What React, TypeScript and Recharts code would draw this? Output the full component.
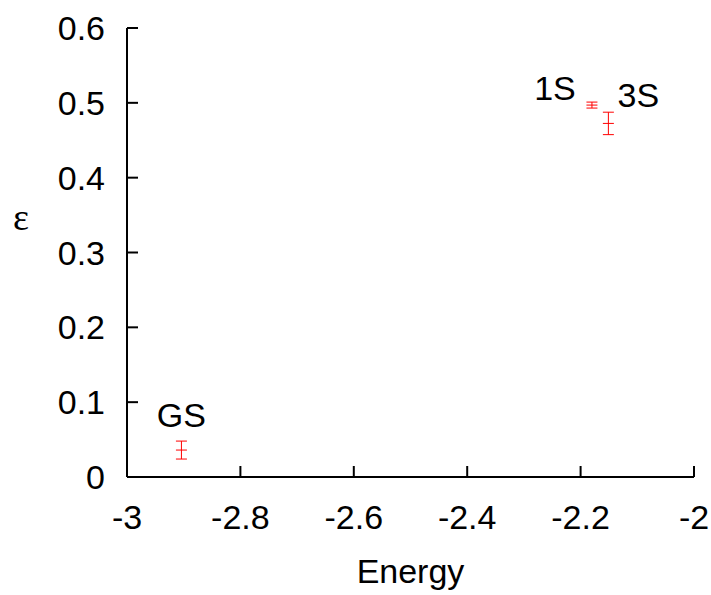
import { ScatterChart, Scatter, XAxis, YAxis, ErrorBar } from 'recharts'

// states and their measured values
const stateNames = ['GS', '1S', '3S']
const energies = [-2.904, -2.18, -2.151]
const epsilons = [0.036, 0.497, 0.4725]
const epsErrors = [0.012, 0.004, 0.015]

const xTicks = [-3, -2.8, -2.6, -2.4, -2.2, -2]
const yTicks = [0, 0.1, 0.2, 0.3, 0.4, 0.5, 0.6]

const data = stateNames.map((name, i) => ({
  name,
  energy: energies[i],
  eps: epsilons[i],
  err: epsErrors[i],
}))

// where each state's label sits relative to its point (text anchor middle, baseline)
const labelOffset: Record<string, { dx: number; dy: number }> = {
  GS: { dx: 0, dy: -23 },
  '1S': { dx: -37, dy: -5 },
  '3S': { dx: 30, dy: -16 },
}

const FONT = 'Liberation Sans, Arial, sans-serif'
const FS = 34
const RED = '#ff0000'
const TICK_LEN = 11

function XTick(props: any) {
  const { x, y, payload } = props
  return (
    <g>
      <line x1={x} y1={y} x2={x} y2={y - TICK_LEN} stroke="#000" strokeWidth={2} />
      <text x={x} y={y + 52} textAnchor="middle" fontFamily={FONT} fontSize={FS} fill="#000">
        {payload.value}
      </text>
    </g>
  )
}

function YTick(props: any) {
  const { x, y, payload } = props
  return (
    <g>
      <line x1={x} y1={y} x2={x + TICK_LEN} y2={y} stroke="#000" strokeWidth={2} />
      <text x={x - 22} y={y + 12} textAnchor="end" fontFamily={FONT} fontSize={FS} fill="#000">
        {payload.value}
      </text>
    </g>
  )
}

function PointMark(props: any) {
  const { cx, cy, payload } = props
  const off = labelOffset[payload.name] || { dx: 0, dy: -20 }
  return (
    <g>
      <line x1={cx - 5.5} y1={cy} x2={cx + 5.5} y2={cy} stroke={RED} strokeWidth={1} />
      <text
        x={cx + off.dx}
        y={cy + off.dy}
        textAnchor="middle"
        fontFamily={FONT}
        fontSize={FS}
        fill="#000"
      >
        {payload.name}
      </text>
    </g>
  )
}

export default function App() {
  return (
    <div style={{ position: 'absolute', left: 0, top: 0, background: '#fff' }}>
      <ScatterChart width={711} height={595} margin={{ top: 28, right: 17, left: 0, bottom: 0 }}>
        <XAxis
          type="number"
          dataKey="energy"
          domain={[-3, -2]}
          ticks={xTicks}
          height={118}
          tickSize={0}
          tickMargin={0}
          tickLine={false}
          axisLine={{ stroke: '#000', strokeWidth: 2 }}
          tick={<XTick />}
          allowDataOverflow
          label={{
            value: 'Energy',
            position: 'insideBottom',
            offset: 12,
            fontFamily: FONT,
            fontSize: FS,
            fill: '#000',
          }}
        />
        <YAxis
          type="number"
          dataKey="eps"
          domain={[0, 0.6]}
          ticks={yTicks}
          width={127}
          tickSize={0}
          tickMargin={0}
          tickLine={false}
          axisLine={{ stroke: '#000', strokeWidth: 2 }}
          tick={<YTick />}
          allowDataOverflow
          label={{
            value: 'ε',
            position: 'insideLeft',
            offset: 13,
            dy: -36,
            fontFamily: 'Liberation Serif, Times New Roman, serif',
            fontSize: 38,
            fill: '#000',
          }}
        />
        <Scatter data={data} shape={<PointMark />} isAnimationActive={false}>
          <ErrorBar dataKey="err" direction="y" width={5.5} stroke={RED} strokeWidth={1} />
        </Scatter>
      </ScatterChart>
    </div>
  )
}
